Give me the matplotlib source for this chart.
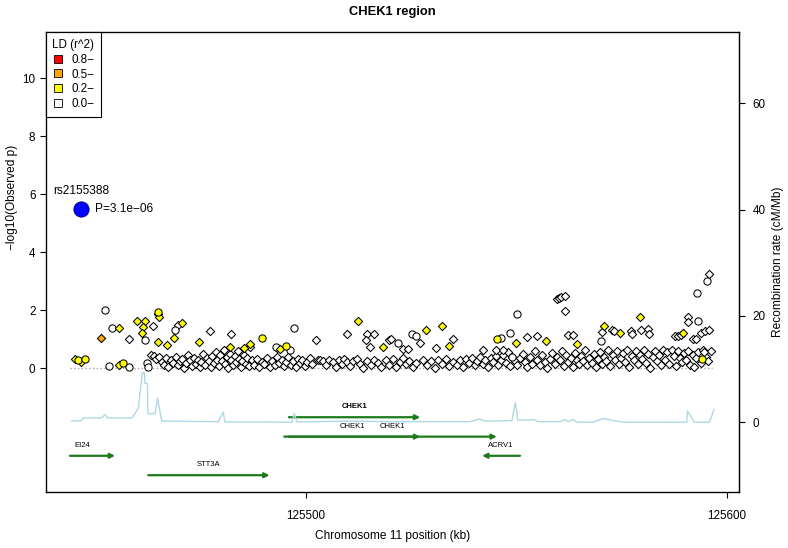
import matplotlib
matplotlib.use("Agg")
import matplotlib.pyplot as plt
from matplotlib.lines import Line2D

plt.rcParams['font.family'] = ['Liberation Sans', 'DejaVu Sans']

# region shown (kb on chromosome 11)
region = [125444.0, 125596.6]

# index SNP
lead_name = "rs2155388"
lead_pos = 125446.6
lead_logp = 5.51
lead_p_text = "P=3.1e\u221206"

# SNPs standing above the baseline band: position (kb), -log10 p, marker, LD bin
snp_pos = [125445.2, 125445.9, 125446.6, 125447.6, 125452.3, 125451.3, 125453.9, 125455.7,
           125453.3, 125455.7, 125456.7, 125458.1, 125458.1, 125459.9, 125461.7, 125461.4,
           125461.0, 125461.8, 125465.0, 125465.0, 125465.2, 125463.8, 125464.8, 125467.0,
           125468.8, 125469.0, 125469.7, 125470.6, 125477.3, 125482.3, 125474.7, 125482.0,
           125489.5, 125485.3, 125486.8, 125486.8, 125493.1, 125462.2, 125462.6, 125497.1,
           125512.5, 125528.5, 125532.3, 125534.0, 125518.3, 125509.7, 125514.5, 125516.3,
           125514.3, 125515.3, 125502.4, 125493.9, 125495.3, 125492.9, 125496.3, 125519.8,
           125520.3, 125522.0, 125523.0, 125524.2, 125525.2, 125526.2, 125527.2, 125535.1,
           125531.0, 125542.2, 125545.2, 125545.5, 125546.4, 125550.1, 125550.0, 125548.5,
           125552.5, 125554.9, 125557.1, 125559.6, 125560.2, 125560.6, 125561.6, 125561.6,
           125562.4, 125563.6, 125564.5, 125570.1, 125570.9, 125570.3, 125572.7, 125573.3,
           125574.7, 125577.2, 125577.4, 125579.4, 125579.6, 125581.4, 125581.6, 125589.7,
           125587.7, 125588.4, 125589.1, 125590.9, 125590.9, 125593.3, 125592.9, 125595.4,
           125595.8, 125593.8, 125594.9, 125595.9, 125592.1, 125592.6, 125594.6, 125594.1,
           125592.2, 125546.8, 125548.9]
snp_logp = [0.32, 0.29, 0.22, 0.32, 2.01, 1.06, 1.39, 1.38,
            0.08, 0.11, 0.17, 0.06, 1.01, 1.64, 1.64, 1.41,
            1.21, 0.98, 1.95, 1.87, 1.78, 1.46, 0.90, 0.80,
            1.03, 1.32, 1.49, 1.55, 1.30, 1.18, 0.90, 0.72,
            1.06, 0.69, 0.84, 0.72, 0.71, 0.17, 0.06, 1.40,
            1.63, 1.32, 1.46, 0.77, 0.72, 1.17, 1.17, 1.17,
            0.98, 0.72, 0.98, 0.67, 0.78, 0.72, 0.63, 0.98,
            1.01, 0.88, 0.66, 0.66, 1.17, 1.12, 0.86, 1.00,
            0.69, 0.63, 0.63, 1.00, 1.03, 1.87, 0.86, 1.23,
            1.07, 1.11, 0.94, 2.39, 2.42, 2.46, 2.49, 1.98,
            1.15, 1.15, 0.83, 0.95, 1.47, 1.24, 1.32, 1.30,
            1.21, 1.30, 1.18, 1.76, 1.32, 1.34, 1.18, 1.21,
            1.11, 1.11, 1.15, 1.76, 1.61, 1.63, 2.61, 3.01,
            3.24, 1.23, 1.28, 1.32, 1.00, 1.00, 0.57, 0.32,
            0.03, 0.63, 0.40]
snp_shape = ['D', 'o', 'D', 'o', 'o', 'D', 'o', 'D',
             'o', 'D', 'o', 'o', 'D', 'D', 'D', 'D',
             'D', 'o', 'o', 'D', 'D', 'D', 'D', 'D',
             'D', 'o', 'D', 'D', 'D', 'D', 'D', 'D',
             'o', 'D', 'D', 'D', 'D', 'o', 'o', 'o',
             'D', 'D', 'D', 'D', 'D', 'D', 'D', 'D',
             'D', 'D', 'D', 'D', 'o', 'o', 'o', 'D',
             'D', 'o', 'D', 'D', 'o', 'o', 'D', 'D',
             'D', 'D', 'D', 'o', 'o', 'o', 'D', 'o',
             'D', 'D', 'D', 'D', 'D', 'D', 'D', 'D',
             'D', 'D', 'D', 'o', 'D', 'D', 'D', 'D',
             'D', 'D', 'D', 'D', 'D', 'D', 'D', 'D',
             'D', 'D', 'D', 'D', 'D', 'o', 'o', 'o',
             'D', 'D', 'D', 'D', 'D', 'D', 'D', 'o',
             'D', 'D', 'o']
snp_ld = ['0.2', '0.2', '0.2', '0.2', '0.0', '0.5', '0.0', '0.2',
          '0.0', '0.2', '0.2', '0.0', '0.0', '0.2', '0.2', '0.2',
          '0.2', '0.0', '0.2', '0.2', '0.2', '0.0', '0.2', '0.2',
          '0.2', '0.0', '0.0', '0.2', '0.0', '0.0', '0.2', '0.2',
          '0.2', '0.2', '0.2', '0.0', '0.0', '0.0', '0.0', '0.0',
          '0.2', '0.2', '0.2', '0.2', '0.2', '0.0', '0.0', '0.0',
          '0.0', '0.0', '0.0', '0.2', '0.2', '0.0', '0.0', '0.0',
          '0.0', '0.0', '0.0', '0.0', '0.0', '0.0', '0.0', '0.0',
          '0.0', '0.0', '0.0', '0.2', '0.0', '0.0', '0.2', '0.0',
          '0.0', '0.0', '0.2', '0.0', '0.0', '0.0', '0.0', '0.0',
          '0.0', '0.0', '0.2', '0.0', '0.2', '0.0', '0.0', '0.0',
          '0.2', '0.0', '0.0', '0.2', '0.0', '0.0', '0.0', '0.2',
          '0.0', '0.0', '0.0', '0.0', '0.0', '0.0', '0.0', '0.0',
          '0.0', '0.0', '0.0', '0.0', '0.0', '0.0', '0.0', '0.2',
          '0.0', '0.0', '0.0']

# dense band of weak SNPs (r^2 < 0.2, diamonds)
base_pos = [125463.2, 125463.9, 125464.5, 125465.1, 125465.8, 125466.3, 125466.9, 125467.4,
            125467.9, 125468.5, 125469.1, 125469.6, 125470.2,
            125470.7, 125471.2, 125471.6, 125472.1, 125472.5, 125473.0, 125473.4, 125473.9,
            125474.3, 125474.8, 125475.2, 125475.6, 125476.1, 125476.5, 125477.0, 125477.4,
            125477.8,
            125478.2, 125478.6, 125479.0, 125479.4, 125479.7, 125480.1, 125480.5, 125480.9,
            125481.2, 125481.6, 125482.0, 125482.3, 125482.7, 125483.1, 125483.4, 125483.8,
            125484.2, 125484.6, 125484.9, 125485.3, 125485.7, 125486.1,
            125486.6, 125487.2, 125487.8, 125488.4, 125489.0, 125489.6, 125490.2, 125490.8,
            125491.4, 125492.0, 125492.6, 125493.2, 125493.7,
            125494.3, 125494.8, 125495.4, 125495.9, 125496.5, 125497.0, 125497.6, 125498.1,
            125498.7, 125499.2, 125499.8, 125500.4, 125501.0, 125501.6,
            125502.9, 125503.5, 125504.2, 125504.9, 125505.6, 125506.4, 125507.1, 125507.8,
            125508.5, 125509.2, 125509.9,
            125510.6, 125511.3, 125512.1, 125512.9, 125513.7, 125514.6, 125515.4, 125516.2,
            125517.1, 125517.9,
            125519.1, 125519.9, 125520.7, 125521.5, 125522.3, 125523.1, 125523.9, 125524.6,
            125525.4, 125526.3,
            125527.9, 125528.8, 125529.7, 125530.6, 125531.5, 125532.4, 125533.3, 125534.1,
            125535.0, 125535.9,
            125536.6, 125537.3, 125538.0, 125538.7, 125539.4, 125540.1, 125540.8, 125541.4,
            125542.0, 125542.7, 125543.3, 125543.9, 125544.5, 125545.1, 125545.7,
            125546.3, 125546.9, 125547.5, 125548.0, 125548.6, 125549.1, 125549.7, 125550.3,
            125550.9, 125551.5, 125552.0, 125552.6, 125553.2, 125553.8, 125554.4, 125555.0,
            125555.6, 125556.2, 125556.8, 125557.4, 125558.0, 125558.6, 125559.2, 125559.8,
            125560.4, 125560.9, 125561.4, 125561.9, 125562.4, 125562.9, 125563.4, 125563.9,
            125564.4, 125564.9, 125565.4, 125565.9, 125566.4, 125566.9, 125567.4, 125567.9,
            125568.4, 125568.9, 125569.4, 125569.9, 125570.4, 125570.9, 125571.4, 125571.9,
            125572.4, 125572.9, 125573.4, 125573.9, 125574.4, 125574.9,
            125575.4, 125575.9, 125576.4, 125576.9, 125577.4, 125577.9, 125578.4, 125578.9,
            125579.4, 125579.9, 125580.4, 125580.9, 125581.4, 125581.9, 125582.4, 125582.9,
            125583.4, 125583.9, 125584.4, 125584.9, 125585.4, 125585.9, 125586.4, 125586.9,
            125587.4, 125587.9, 125588.4, 125588.9, 125589.4, 125589.9,
            125590.4, 125590.9, 125591.4, 125591.9, 125592.6, 125593.2, 125593.8, 125594.3,
            125595.0, 125595.6, 125596.2]
base_logp = [0.45, 0.42, 0.31, 0.38, 0.22, 0.12, 0.35, 0.05,
             0.28, 0.18, 0.40, 0.10, 0.25,
             0.33, 0.02, 0.19, 0.44, 0.27, 0.08, 0.36, 0.15,
             0.30, 0.04, 0.22, 0.48, 0.12, 0.34, 0.26, 0.06,
             0.41,
             0.18, 0.55, 0.30, 0.09, 0.45, 0.24, 0.62, 0.14,
             0.38, 0.02, 0.50, 0.28, 0.10, 0.42, 0.20, 0.58,
             0.33, 0.05, 0.25, 0.46, 0.15, 0.36,
             0.08, 0.27, 0.12, 0.31, 0.05, 0.22, 0.16, 0.34,
             0.03, 0.25, 0.10, 0.40, 0.18,
             0.30, 0.07, 0.21, 0.38, 0.12, 0.26, 0.04, 0.33,
             0.17, 0.28, 0.09, 0.22, 0.35, 0.14,
             0.27, 0.30, 0.26, 0.12, 0.29, 0.22, 0.05, 0.28,
             0.14, 0.31, 0.20,
             0.08, 0.25, 0.32, 0.15, 0.02, 0.24, 0.10, 0.30,
             0.18, 0.06,
             0.28, 0.12, 0.33, 0.05, 0.22, 0.36, 0.14, 0.26,
             0.03, 0.19,
             0.30, 0.11, 0.24, 0.02, 0.27, 0.16, 0.33, 0.08,
             0.21, 0.12,
             0.27, 0.05, 0.31, 0.19, 0.36, 0.10, 0.24, 0.40,
             0.15, 0.29, 0.03, 0.34, 0.20, 0.42, 0.12,
             0.30, 0.45, 0.18, 0.55, 0.08, 0.40, 0.26, 0.12,
             0.35, 0.50, 0.21, 0.04, 0.38, 0.16, 0.58, 0.28,
             0.10, 0.44, 0.22, 0.02, 0.33, 0.52, 0.15, 0.40,
             0.27, 0.60, 0.08, 0.45, 0.20, 0.36, 0.05, 0.54,
             0.30, 0.14, 0.42, 0.25, 0.62, 0.10, 0.37, 0.19,
             0.48, 0.03, 0.32, 0.57, 0.16, 0.40, 0.24, 0.63,
             0.09, 0.44, 0.28, 0.60, 0.13, 0.35,
             0.52, 0.21, 0.63, 0.06, 0.41, 0.27, 0.58, 0.14,
             0.46, 0.33, 0.62, 0.18, 0.50, 0.02, 0.38, 0.60,
             0.24, 0.47, 0.11, 0.62, 0.30, 0.55, 0.16, 0.63,
             0.42, 0.07, 0.61, 0.35, 0.20, 0.52,
             0.28, 0.60, 0.12, 0.45, 0.34, 0.55, 0.18, 0.62,
             0.40, 0.25, 0.58]

# recombination rate (cM/Mb)
recomb_pos = [125444.4, 125446.6, 125447.2, 125451.5, 125452.3, 125452.9, 125458.7, 125460.2,
              125461.2, 125461.7, 125461.8, 125462.4, 125462.5, 125464.2, 125464.8, 125465.8,
              125479.2, 125480.4, 125480.8, 125496.7, 125497.3, 125497.9, 125510.0, 125520.0,
              125539.0, 125541.3, 125542.6, 125549.0, 125549.8, 125550.4, 125552.8, 125554.1,
              125555.2, 125560.4, 125561.6, 125562.3, 125563.6, 125564.4, 125568.2, 125570.7,
              125573.0, 125575.4, 125590.5, 125590.7, 125592.3, 125595.9, 125597.0]
recomb_rate = [0.25, 0.25, 0.8, 0.8, 1.45, 0.8, 0.8, 2.6,
               9.3, 9.3, 7.3, 7.3, 1.6, 1.6, 4.5, 0.2,
               0.1, 1.9, 0.05, 0.0, 1.6, 0.05, 0.2, 0.1,
               0.1, 0.6, 0.2, 0.3, 3.7, 0.4, 0.4, 0.5,
               0.1, 0.1, 0.5, 0.1, 0.5, 0.0, 0.0, 0.7,
               0.3, 0.0, 0.0, 2.1, 0.0, 0.0, 2.4]

# genes
gene_name = ["CHEK1", "CHEK1", "CHEK1", "EI24", "ACRV1", "STT3A"]
gene_start = [125496.0, 125494.9, 125496.0, 125439.3, 125541.9, 125462.6]
gene_end = [125527.2, 125527.2, 125545.4, 125454.7, 125550.9, 125491.4]
gene_strand = ['+', '+', '+', '+', '-', '+']
gene_row = [0, 1, 1, 2, 2, 3]
gene_bold = [True, False, False, False, False, False]

ld_labels = ['0.8', '0.5', '0.2', '0.0']
ld_colors = {'0.8': '#ff0000', '0.5': '#ffa500', '0.2': '#ffff00', '0.0': '#ffffff'}

fig = plt.figure(figsize=(7.88, 5.48), dpi=100)
ax = fig.add_axes([46 / 788, 1 - 492.3 / 548, (739.3 - 46) / 788, (492.3 - 32.3) / 548])
ax2 = ax.twinx()

ax.set_xlim(125438.3, 125603.0)
ax.set_ylim(-4.28, 11.59)
ax2.set_ylim(-13.2, 73.4)

# recombination
ax2.plot(recomb_pos, recomb_rate, color='#add8e6', lw=1.0, zorder=1)

# baseline
ax.plot(region, [0, 0], ls=(0, (1, 2)), color='#999999', lw=0.9, zorder=1)

# points
ms_d, ms_o = 4.2, 5.2
ax.scatter(base_pos, base_logp, marker='D', s=ms_d ** 2, facecolor='white',
           edgecolor='black', linewidths=0.75, zorder=3)
for bin_ in ['0.0', '0.2', '0.5', '0.8']:
    for shp, ms in [('D', ms_d), ('o', ms_o)]:
        xs = [p for p, l, s in zip(snp_pos, snp_ld, snp_shape) if l == bin_ and s == shp]
        ys = [v for v, l, s in zip(snp_logp, snp_ld, snp_shape) if l == bin_ and s == shp]
        if xs:
            ax.scatter(xs, ys, marker=shp, s=ms ** 2, facecolor=ld_colors[bin_],
                       edgecolor='black', linewidths=0.75, zorder=4)

ax.scatter([lead_pos], [lead_logp], marker='o', s=11 ** 2, facecolor='#0000ff',
           edgecolor='#000080', linewidths=0.6, zorder=5)
ax.text(lead_pos, lead_logp + 0.62, lead_name, ha='center', va='center', fontsize=8.6)
ax.text(lead_pos + 3.4, lead_logp, lead_p_text, ha='left', va='center', fontsize=8.6)

# gene track
row_y = [-1.69, -2.36, -3.02, -3.69]
green = '#1d7a1d'
for name, st, en, strand, row, bold in zip(gene_name, gene_start, gene_end,
                                           gene_strand, gene_row, gene_bold):
    y = row_y[row]
    a, b = max(st, region[0]), min(en, region[1])
    if strand == '-':
        a, b = b, a
    ax.annotate('', xy=(b, y), xytext=(a, y),
                arrowprops=dict(arrowstyle='-|>', color=green, lw=1.6,
                                mutation_scale=7, shrinkA=0, shrinkB=0), zorder=2)
    ax.text((st + en) / 2, y + 0.36, name, ha='center', va='center', fontsize=5.5,
            fontweight='bold' if bold else 'normal')

# axes styling
for sp in ax.spines.values():
    sp.set_linewidth(0.9)
ax2.spines['right'].set_linewidth(0.9)
ax.set_yticks([0, 2, 4, 6, 8, 10])
ax.set_xticks([125500, 125600])
ax.set_xticklabels(['125500', '125600'])
ax2.set_yticks([0, 20, 40, 60])
ax.tick_params(axis='y', direction='out', length=4.6, width=0.8, pad=3, labelsize=8.4)
ax.tick_params(axis='x', direction='out', length=4.6, width=0.8, pad=8, labelsize=8.4)
ax2.tick_params(axis='y', direction='out', length=4.6, width=0.8, pad=5, labelsize=8.4)

fig.text(12 / 788, 1 - 197 / 548, '\u2212log10(Observed p)', rotation=90,
         ha='center', va='center', fontsize=8.6)
fig.text(778 / 788, 1 - 262 / 548, 'Recombination rate (cM/Mb)', rotation=90,
         ha='center', va='center', fontsize=8.6)
fig.text(392.5 / 788, 1 - 536 / 548, 'Chromosome 11 position (kb)',
         ha='center', va='center', fontsize=8.6)
fig.text(392.5 / 788, 1 - 12 / 548, 'CHEK1 region', ha='center', va='center',
         fontsize=9.3, fontweight='bold')

# legend
handles = [Line2D([], [], ls='', marker='s', markersize=6, markerfacecolor=ld_colors[l],
                  markeredgecolor='black', markeredgewidth=0.6) for l in ld_labels]
leg = ax.legend(handles, [l + '\u2212' for l in ld_labels], title='LD (r^2)',
                loc='upper left', bbox_to_anchor=(0, 1), borderaxespad=0,
                fontsize=8.4, title_fontsize=8.4, frameon=True, fancybox=False,
                edgecolor='black', framealpha=1, handlelength=1.0, handletextpad=0.6,
                labelspacing=0.25, borderpad=0.55)
leg.get_frame().set_linewidth(0.8)
leg.set_zorder(10)

fig.savefig('out.png', dpi=100)
